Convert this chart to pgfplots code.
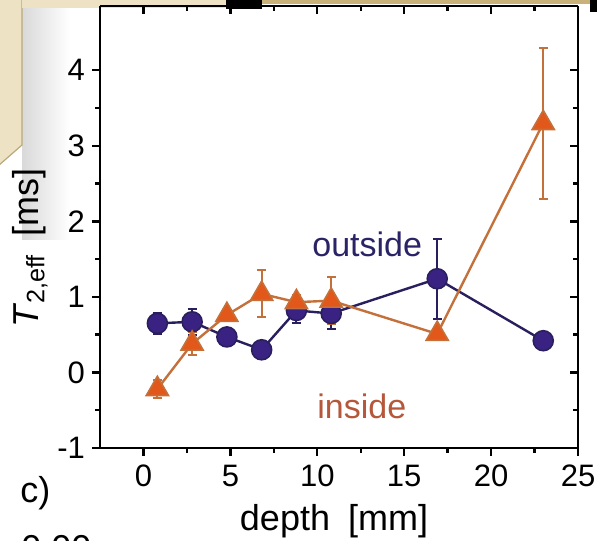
\documentclass[border=0pt]{standalone}
\usepackage{pgfplots}
\pgfplotsset{compat=1.18}
\usepackage{fontspec}
\setmainfont{Liberation Sans}
\definecolor{navyfill}{HTML}{3A2282}
\definecolor{navyline}{HTML}{2A1F5E}
\definecolor{orfill}{HTML}{E2581A}
\definecolor{orline}{HTML}{C4703A}
\definecolor{outtext}{HTML}{2A2466}
\definecolor{intext}{HTML}{B5573A}
\definecolor{beige}{HTML}{EEE2C4}
\definecolor{beigeedge}{HTML}{B9A878}
\definecolor{tanband}{HTML}{C9B27A}
\begin{document}
\begin{tikzpicture}
\useasboundingbox (0,0) rectangle (298.5pt,270pt);
% screenshot artefacts (decoration only)
\shade[left color=gray!30, right color=white] (11pt,150pt) rectangle (35pt,270pt);
\fill[beige, draw=beigeedge, line width=0.6pt] (-1pt,271pt) -- (11pt,271pt) -- (11pt,197.5pt) -- (-1pt,187pt) -- cycle;
\fill[beige] (11pt,270pt) rectangle (113pt,266pt);
\fill[black] (113pt,270pt) rectangle (131pt,265.5pt);
\fill[tanband] (131pt,270pt) rectangle (298.5pt,268pt);
\fill[black] (295pt,270pt) rectangle (298.5pt,264pt);

\begin{axis}[
  at={(50pt,46pt)}, anchor=south west,
  scale only axis, width=239pt, height=221pt,
  xmin=-2.5, xmax=25, ymin=-1, ymax=4.85,
  axis x line*=top, axis y line*=right,
  axis line style={-, line width=1.2pt},
  tick align=inside,
  xtick={0,5,10,15,20,25}, minor x tick num=1,
  ytick={-1,0,1,2,3,4}, minor y tick num=1,
  xticklabels={}, yticklabels={},
  major tick length=4pt, minor tick length=2.5pt,
  every tick/.style={line width=1.2pt, black},
]
\end{axis}

\begin{axis}[
  at={(50pt,46pt)}, anchor=south west,
  scale only axis, width=239pt, height=221pt,
  xmin=-2.5, xmax=25, ymin=-1, ymax=4.85,
  axis x line*=bottom, axis y line*=left,
  axis line style={-, line width=1.2pt},
  tick align=outside,
  xtick={0,5,10,15,20,25}, minor x tick num=1,
  ytick={-1,0,1,2,3,4}, minor y tick num=1,
  xticklabels={0,5,10,15,20,25},
  yticklabels={-1,0,1,2,3,4},
  major tick length=4pt, minor tick length=2.5pt,
  every tick/.style={line width=1.2pt, black},
  tick label style={font=\fontsize{15.5}{18}\selectfont},
  xticklabel style={yshift=-1pt},
  clip=false,
]
\addplot[navyline, line width=1.2pt,
  mark=*, mark size=5pt,
  mark options={fill=navyfill, draw=navyline, line width=0.8pt},
  error bars/.cd, y dir=both, y explicit,
  error bar style={line width=1pt, navyline},
  error mark options={rotate=90, mark size=2.2pt, line width=1pt, navyline}]
  table[x=x, y=y, y error=e] {
  x y e
  0.8 0.65 0.14
  2.8 0.67 0.17
  4.8 0.47 0.05
  6.8 0.30 0.03
  8.8 0.82 0.17
  10.8 0.78 0.20
  16.9 1.24 0.53
  23.0 0.42 0.03
};
\addplot[orline, line width=1.2pt,
  mark=triangle*, mark size=6.4pt,
  mark options={fill=orfill, draw=orline, line width=0.8pt},
  error bars/.cd, y dir=both, y explicit,
  error bar style={line width=1pt, orline},
  error mark options={rotate=90, mark size=2.2pt, line width=1pt, orline}]
  table[x=x, y=y, y error=e] {
  x y e
  0.8 -0.22 0.12
  2.8 0.38 0.15
  4.8 0.76 0.05
  6.8 1.04 0.31
  8.8 0.93 0.10
  10.8 0.95 0.31
  16.9 0.51 0.05
  23.0 3.30 1.00
};
\end{axis}

\node[anchor=base west, text=outtext, font=\fontsize{17}{20}\selectfont, inner sep=0pt] at (156pt,141.5pt) {outside};
\node[anchor=base west, text=intext, font=\fontsize{17}{20}\selectfont, inner sep=0pt] at (158.5pt,61pt) {inside};
\node[anchor=base, font=\fontsize{18}{21}\selectfont, inner sep=0pt] at (167pt,5pt) {depth\enspace[mm]};
\node[anchor=base, rotate=90, font=\fontsize{18}{21}\selectfont, inner sep=0pt] at (19pt,146pt) {\textit{T}\textsubscript{2,eff}\enspace[ms]};
\node[anchor=base west, font=\fontsize{18}{21}\selectfont, inner sep=0pt] at (10pt,19pt) {c)};
\node[anchor=base west, font=\fontsize{18}{21}\selectfont, inner sep=0pt] at (10.5pt,-10pt) {0.00};
\end{tikzpicture}
\end{document}
